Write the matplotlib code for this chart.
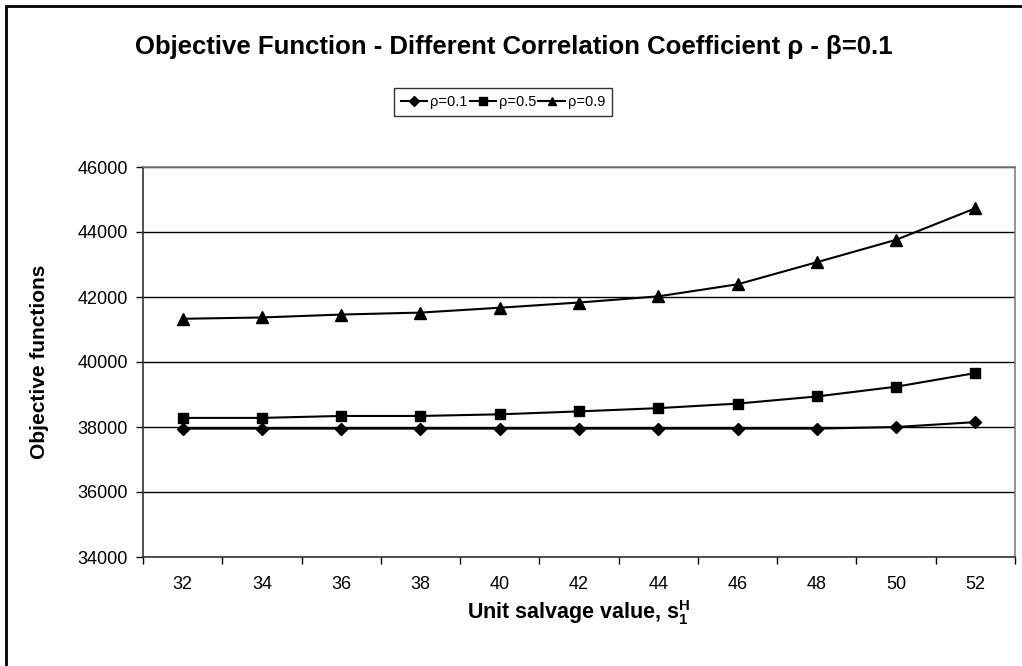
import matplotlib
matplotlib.use('Agg')
import matplotlib.pyplot as plt
from matplotlib.patches import Rectangle

# ── DATA ─────────────────────────────────────────────────────
salvage = [32, 34, 36, 38, 40, 42, 44, 46, 48, 50, 52]
rho_01 = [37950, 37950, 37950, 37950, 37950, 37950, 37950, 37950, 37950, 38000, 38150]
rho_05 = [38280, 38280, 38340, 38340, 38390, 38480, 38580, 38720, 38940, 39240, 39660]
rho_09 = [41330, 41370, 41460, 41520, 41670, 41830, 42020, 42390, 43070, 43760, 44730]
labels = ['ρ=0.1', 'ρ=0.5', 'ρ=0.9']
y_ticks = [34000, 36000, 38000, 40000, 42000, 44000, 46000]
# ─────────────────────────────────────────────────────────────

plt.rcParams['font.family'] = ['Liberation Sans', 'DejaVu Sans']
plt.rcParams['mathtext.fontset'] = 'custom'
plt.rcParams['mathtext.rm'] = 'Liberation Sans'
plt.rcParams['mathtext.bf'] = 'Liberation Sans:bold'

W, H = 1022, 666
fig = plt.figure(figsize=(W / 100, H / 100), dpi=100)
ax = fig.add_axes([143 / W, 1 - 557 / H, (1015 - 143) / W, (557 - 167) / H])

pos = list(range(len(salvage)))
ax.plot(pos, rho_01, color='black', lw=1.5, marker='D', ms=6, label=labels[0])
ax.plot(pos, rho_05, color='black', lw=1.5, marker='s', ms=7, label=labels[1])
ax.plot(pos, rho_09, color='black', lw=1.5, marker='^', ms=8, label=labels[2])

ax.set_xlim(-0.5, len(salvage) - 0.5)
ax.set_ylim(34000, 46000)
ax.set_yticks(y_ticks)
ax.set_xticks(pos)
ax.set_xticklabels([str(v) for v in salvage])
ax.set_xticks([p - 0.5 for p in pos] + [len(pos) - 0.5], minor=True)
ax.tick_params(axis='x', which='major', length=0, pad=14, labelsize=13)
ax.tick_params(axis='x', which='minor', length=5, width=1, direction='out')
ax.tick_params(axis='y', length=5, width=1, direction='out', labelsize=13, pad=6)

ax.grid(axis='y', color='black', lw=1)
ax.set_axisbelow(True)
for s in ['top', 'right']:
    ax.spines[s].set_color('#808080')
for s in ['left', 'bottom']:
    ax.spines[s].set_color('#333333')
for s in ax.spines.values():
    s.set_linewidth(1.2)

ax.set_ylabel('Objective functions', fontsize=15, fontweight='bold', labelpad=20)
ax.set_xlabel(r'Unit salvage value, $\mathbf{s_1^H}$', fontsize=15.5, fontweight='bold', labelpad=3)

fig.text(514 / W, 1 - 47 / H,
         'Objective Function - Different Correlation Coefficient ρ - β=0.1',
         ha='center', va='center', fontsize=18.5, fontweight='bold')

leg = fig.legend(loc='center', bbox_to_anchor=(503 / W, 1 - 102 / H), ncol=3,
                 fontsize=10.5, frameon=True, fancybox=False, edgecolor='black',
                 handlelength=1.8, handletextpad=0.2, columnspacing=0.15,
                 borderpad=0.45, borderaxespad=0, markerscale=0.8)
leg.get_frame().set_linewidth(1)

fig.patches.append(Rectangle((6 / W, -0.1), 1.2, 1.1 - 6 / H, transform=fig.transFigure,
                             fill=False, edgecolor='black', lw=2, clip_on=False))

fig.savefig('out.png', dpi=100)
